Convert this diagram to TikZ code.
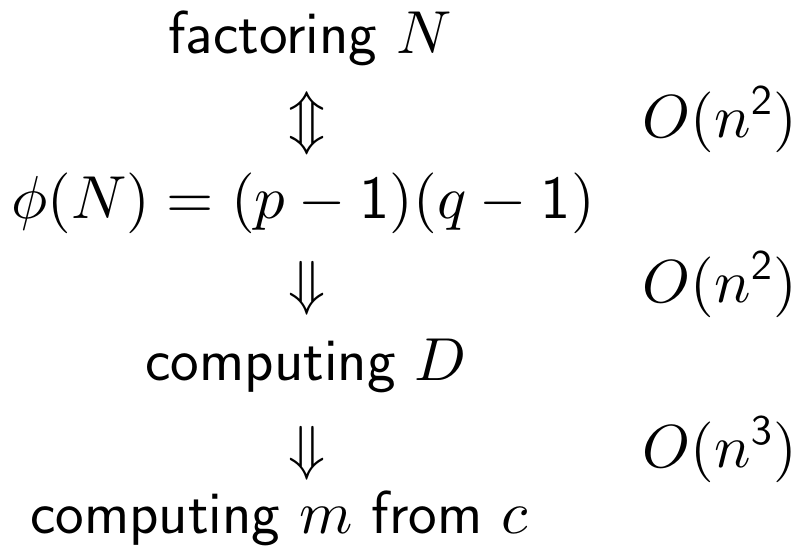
\documentclass[tikz,border=0pt]{standalone}
\usepackage{amsmath,amssymb}
\usepackage{tikz}
\usetikzlibrary{positioning}

% scaled 10pt designs for the large text
\DeclareFontFamily{OT1}{cmss}{\hyphenchar\font45}
\DeclareFontShape{OT1}{cmss}{m}{n}{<->cmss10}{}
\DeclareFontShape{OML}{cmm}{m}{it}{<->cmmi10}{}
\DeclareFontShape{OT1}{cmr}{m}{n}{<->cmr10}{}

\newcommand{\sd}[1]{\mathsf{#1}}

\begin{document}
\begin{tikzpicture}[
 stage/.style={font=\LARGE\sffamily,anchor=base,inner sep=0pt},
 implies/.style={font=\LARGE,inner sep=0pt},
 cost/.style={font=\LARGE,anchor=base west,inner sep=0pt}
]
\useasboundingbox (0,0) rectangle (7.99,5.56);
\node[stage] (fact) at (3.10,5.03) {factoring $N$};
\node[stage] (phi) at (3.03,3.38) {$\phi(N) \mathrel{\sd{=}} (p-\sd{1})(q-\sd{1})$};
\node[stage] (cmpd) at (3.06,1.76) {computing $D$};
\node[stage] (cmpm) at (2.79,0.23) {computing $m$ from $c$};
\node[implies] (a1) at (3.07,4.33) {$\Updownarrow$};
\node[implies] (a2) at (3.07,2.68) {$\Downarrow$};
\node[implies] (a3) at (3.07,1.03) {$\Downarrow$};
\node[cost] (c1) at (6.42,4.19) {$O(n^{\sd{2}})$};
\node[cost] (c2) at (6.42,2.54) {$O(n^{\sd{2}})$};
\node[cost] (c3) at (6.42,0.89) {$O(n^{\sd{3}})$};
\end{tikzpicture}
\end{document}
